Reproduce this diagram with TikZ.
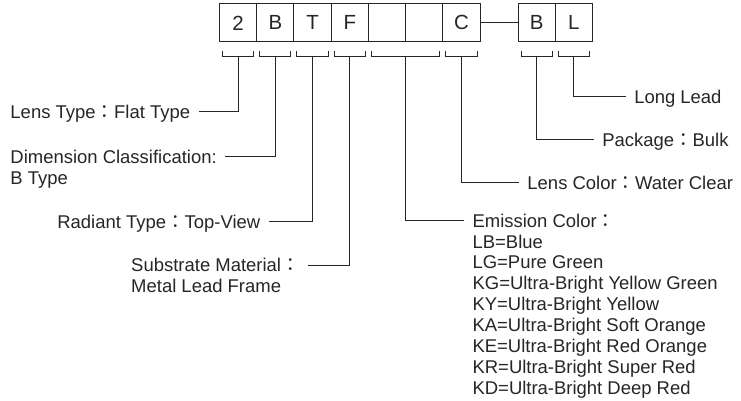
\documentclass[tikz,border=0pt]{standalone}
\usepackage{fontspec}
\setmainfont{Liberation Sans}
\newfontfamily\cjk{Noto Sans CJK TC}
\newcommand\wcolon{{\cjk ：}}
\usetikzlibrary{positioning,calc}
\begin{document}
\begin{tikzpicture}[
            x=1pt, y=-1pt,
            line width=1pt, color=black!85,
            cell/.style = {draw, minimum width=37.3pt, minimum height=38pt, inner sep=0pt, outer sep=0pt, font=\fontsize{20.5}{24}\selectfont},
            lbl/.style = {inner xsep=8pt, inner ysep=0pt, text height=13pt, text depth=0pt, font=\fontsize{18.5}{21}\selectfont}
          ]
          \path[fill=white] (0,0) rectangle (741,401);
          % part number cells
          \node[cell] (b1) at (238.6,23) {2};
          \node[cell, right=0pt of b1] (b2) {B};
          \node[cell, right=0pt of b2] (b3) {T};
          \node[cell, right=0pt of b3] (b4) {F};
          \node[cell, right=0pt of b4] (b5) {};
          \node[cell, right=0pt of b5] (b6) {};
          \node[cell, right=0pt of b6] (b7) {C};
          \node[cell, right=38pt of b7] (b8) {B};
          \node[cell, right=0pt of b8] (b9) {L};
          \draw (b7) -- (b8);
          % brackets under the cells
          \foreach \a/\b/\k in {b1/b1/k1, b2/b2/k2, b3/b3/k3, b4/b4/k4, b5/b6/k5, b7/b7/k6, b8/b8/k7, b9/b9/k8} {
            \draw ([shift={(3,9)}]\a.south west) -- ++(0,6) -| ([shift={(-3,9)}]\b.south east);
            \coordinate (\k) at ($(\a.south west)!.5!(\b.south east)+(0,15)$);
          }
          % labels
          \node[lbl, anchor=west] (lens) at (2,112) {Lens Type\wcolon Flat Type};
          \node[lbl, anchor=west] (dim) at (2,157) {Dimension Classification:};
          \node[lbl, anchor=west] (dim2) at (2,178) {B Type};
          \node[lbl, anchor=west] (rad) at (49,222) {Radiant Type\wcolon Top-View};
          \node[lbl, anchor=west] (sub) at (123,266) {Substrate Material\wcolon};
          \node[lbl, anchor=west] (sub2) at (123,287) {Metal Lead Frame};
          \node[lbl, anchor=west] (emis) at (465,221) {Emission Color\wcolon};
          \foreach \t [count=\i] in {LB=Blue, LG=Pure Green, KG=Ultra-Bright Yellow Green, KY=Ultra-Bright Yellow, KA=Ultra-Bright Soft Orange, KE=Ultra-Bright Red Orange, KR=Ultra-Bright Super Red, KD=Ultra-Bright Deep Red}
            \node[lbl, anchor=west] (em\i) at (465,221+21*\i) {\t};
          \node[lbl, anchor=west] (lcol) at (520,183) {Lens Color\wcolon Water Clear};
          \node[lbl, anchor=west] (pkg) at (595,140) {Package\wcolon Bulk};
          \node[lbl, anchor=west] (long) at (627,97) {Long Lead};
          % connectors
          \draw (k1) |- (lens.east);
          \draw (k2) |- (dim.east);
          \draw (k3) |- (rad.east);
          \draw (k4) |- (sub.east);
          \draw (k5) |- (emis.west);
          \draw (k6) |- (lcol.west);
          \draw (k7) |- (pkg.west);
          \draw (k8) |- (long.west);
        \end{tikzpicture}
\end{document}
